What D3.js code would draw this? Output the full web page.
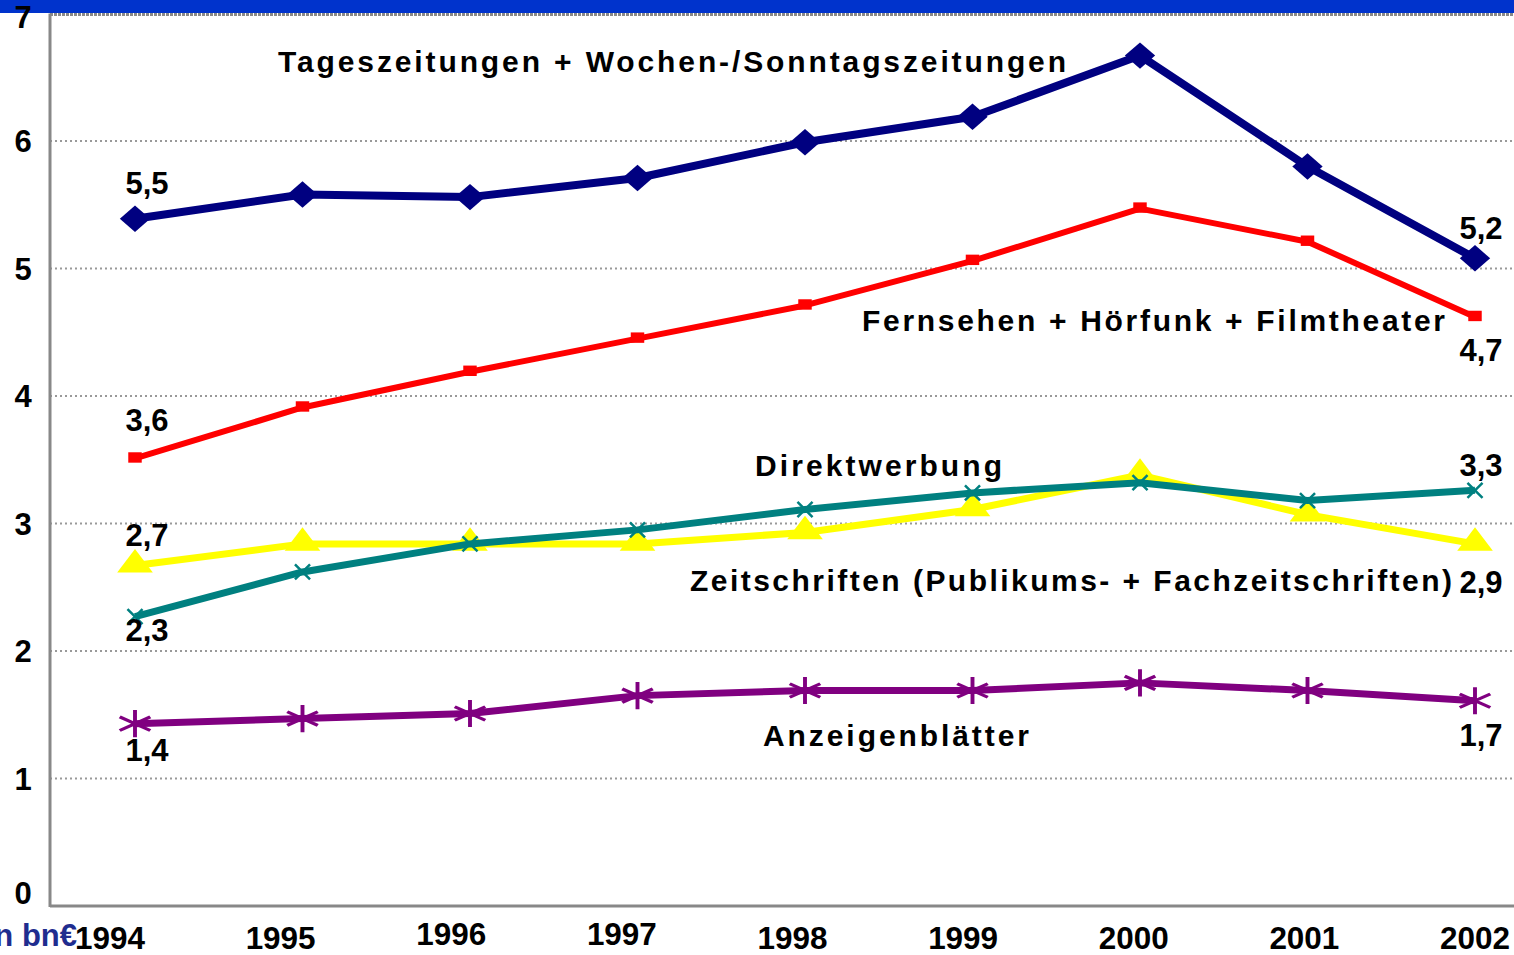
<!DOCTYPE html>
<html>
<head>
<meta charset="utf-8">
<script src="https://cdn.jsdelivr.net/npm/d3@7"></script>
<style>
  body { margin: 0; background: #fff; }
  svg { display: block; font-family: "Liberation Sans", Arial, sans-serif; font-weight: bold; }
</style>
</head>
<body>
<svg id="chart" width="1514" height="955"></svg>
<script>
// Data
const years = ['1994', '1995', '1996', '1997', '1998', '1999', '2000', '2001', '2002'];
const yTicks = [0, 1, 2, 3, 4, 5, 6, 7];

const tageszeitungen = [5.39, 5.58, 5.56, 5.71, 5.99, 6.19, 6.67, 5.80, 5.08];
const fernsehen = [3.51, 3.91, 4.19, 4.45, 4.71, 5.06, 5.47, 5.21, 4.62];
const zeitschriften = [2.67, 2.84, 2.84, 2.84, 2.93, 3.11, 3.38, 3.07, 2.84];
const direktwerbung = [2.27, 2.62, 2.84, 2.95, 3.11, 3.24, 3.32, 3.18, 3.26];
const anzeigenblaetter = [1.43, 1.47, 1.51, 1.65, 1.69, 1.69, 1.75, 1.69, 1.61];

const seriesNames = [
  'Tageszeitungen + Wochen-/Sonntagszeitungen',
  'Fernsehen + Hörfunk + Filmtheater',
  'Zeitschriften (Publikums- + Fachzeitschriften)',
  'Direktwerbung',
  'Anzeigenblätter'
];
const startLabels = ['5,5', '3,6', '2,7', '2,3', '1,4'];
const endLabels = ['5,2', '4,7', '2,9', '3,3', '1,7'];
const unitLabel = 'in bn€';

const svg = d3.select('#chart');
const W = 1514, H = 955;
const margin = { left: 50, top: 13.5, bottom: 49 };

const x = d3.scalePoint().domain(years).range([135, 1475]);
// the category labels sit on their own, slightly wider spread
const xLabel = d3.scalePoint().domain(years).range([110, 1475]);
const y = d3.scaleLinear().domain([0, 7]).range([H - margin.bottom, margin.top]);

// top blue band
svg.append('rect').attr('x', 0).attr('y', 0).attr('width', W).attr('height', 13).attr('fill', '#0033cc');

// grid lines
svg.append('g').attr('class', 'grid')
  .selectAll('line')
  .data(yTicks.filter(d => d > 0 && d < 7))
  .join('line')
  .attr('x1', margin.left).attr('x2', W)
  .attr('y1', d => y(d)).attr('y2', d => y(d))
  .attr('stroke', '#999').attr('stroke-width', 2).attr('stroke-dasharray', '2,3');

// frame top
svg.append('line')
  .attr('x1', margin.left).attr('x2', W)
  .attr('y1', y(7) + 1).attr('y2', y(7) + 1)
  .attr('stroke', '#888').attr('stroke-width', 3).attr('stroke-dasharray', '3,1');

// axes
svg.append('line')
  .attr('x1', margin.left).attr('x2', margin.left)
  .attr('y1', y(7)).attr('y2', y(0) + 1)
  .attr('stroke', '#888').attr('stroke-width', 3);
svg.append('line')
  .attr('x1', margin.left).attr('x2', W)
  .attr('y1', y(0)).attr('y2', y(0))
  .attr('stroke', '#888').attr('stroke-width', 3);

// y tick labels
svg.append('g').selectAll('text')
  .data(yTicks)
  .join('text')
  .attr('x', 23)
  .attr('y', d => d === 0 ? y(0) - 2 : y(d) + (d === 7 ? 14 : 11))
  .attr('text-anchor', 'middle')
  .attr('font-size', 31)
  .text(d => d);

// x tick labels
svg.append('g').selectAll('text')
  .data(years)
  .join('text')
  .attr('x', d => xLabel(d))
  .attr('y', d => (d === '1996' || d === '1997') ? 945 : 949)
  .attr('text-anchor', 'middle')
  .attr('font-size', 31)
  .attr('textLength', 70)
  .attr('lengthAdjust', 'spacingAndGlyphs')
  .text(d => d);

svg.append('text')
  .attr('x', 77).attr('y', 946)
  .attr('text-anchor', 'end')
  .attr('font-size', 31)
  .attr('fill', '#1f2d8f')
  .text(unitLabel);

// series
const series = [
  { values: tageszeitungen, color: '#000080', width: 8 },
  { values: fernsehen, color: '#ff0000', width: 6 },
  { values: zeitschriften, color: '#ffff00', width: 7 },
  { values: direktwerbung, color: '#008080', width: 7 },
  { values: anzeigenblaetter, color: '#800080', width: 7 }
];

const line = d3.line()
  .x((d, i) => x(years[i]))
  .y(d => y(d));

const plot = svg.append('g').attr('class', 'series');

// draw in stacking order: purple, yellow, teal, red, blue
[4, 2, 3, 1, 0].forEach(k => {
  const s = series[k];
  const g = plot.append('g');
  g.append('path')
    .datum(s.values)
    .attr('d', line)
    .attr('fill', 'none')
    .attr('stroke', s.color)
    .attr('stroke-width', s.width)
    .attr('stroke-linejoin', 'round');

  const pts = g.selectAll('path.pt')
    .data(s.values)
    .join('path')
    .attr('class', 'pt');

  if (k === 0) {
    pts.attr('d', d3.symbol(d3.symbolSquare, 460)())
      .attr('transform', (d, i) => `translate(${x(years[i])},${y(d)}) scale(1,0.87) rotate(45)`)
      .attr('fill', s.color);
  } else if (k === 1) {
    pts.attr('d', d3.symbol(d3.symbolSquare, 150)())
      .attr('transform', (d, i) => `translate(${x(years[i])},${y(d) - 1}) scale(1.1,0.85)`)
      .attr('fill', s.color);
  } else if (k === 2) {
    pts.attr('d', d3.symbol(d3.symbolTriangle, 500)())
      .attr('transform', (d, i) => `translate(${x(years[i])},${y(d) - 1}) scale(1.05,0.8)`)
      .attr('fill', s.color);
  } else if (k === 3) {
    pts.attr('d', d3.symbol(d3.symbolTimes, 150)())
      .attr('transform', (d, i) => `translate(${x(years[i])},${y(d)})`)
      .attr('fill', 'none')
      .attr('stroke', s.color)
      .attr('stroke-width', 2.5);
  } else {
    pts.attr('d', d3.symbol(d3.symbolAsterisk, 520)())
      .attr('transform', (d, i) => `translate(${x(years[i])},${y(d)}) scale(1.3,1)`)
      .attr('fill', 'none')
      .attr('stroke', s.color)
      .attr('stroke-width', 3);
  }
});

// series names
const nameBoxes = [
  { x: 278, y: 72, w: 788 },
  { x: 862, y: 331, w: 583 },
  { x: 690, y: 591, w: 762 },
  { x: 755, y: 476, w: 247 },
  { x: 763, y: 746, w: 266 }
];
svg.append('g').selectAll('text')
  .data(seriesNames)
  .join('text')
  .attr('x', (d, i) => nameBoxes[i].x)
  .attr('y', (d, i) => nameBoxes[i].y)
  .attr('font-size', 30)
  .attr('textLength', (d, i) => nameBoxes[i].w)
  .attr('lengthAdjust', 'spacing')
  .text(d => d);

// value labels
const startY = [194, 431, 546, 641, 761];
const endY = [239, 361, 593, 476, 746];
svg.append('g').selectAll('text')
  .data(startLabels)
  .join('text')
  .attr('x', 147).attr('y', (d, i) => startY[i])
  .attr('text-anchor', 'middle')
  .attr('font-size', 31)
  .text(d => d);
svg.append('g').selectAll('text')
  .data(endLabels)
  .join('text')
  .attr('x', 1481).attr('y', (d, i) => endY[i])
  .attr('text-anchor', 'middle')
  .attr('font-size', 31)
  .text(d => d);
</script>
</body>
</html>
